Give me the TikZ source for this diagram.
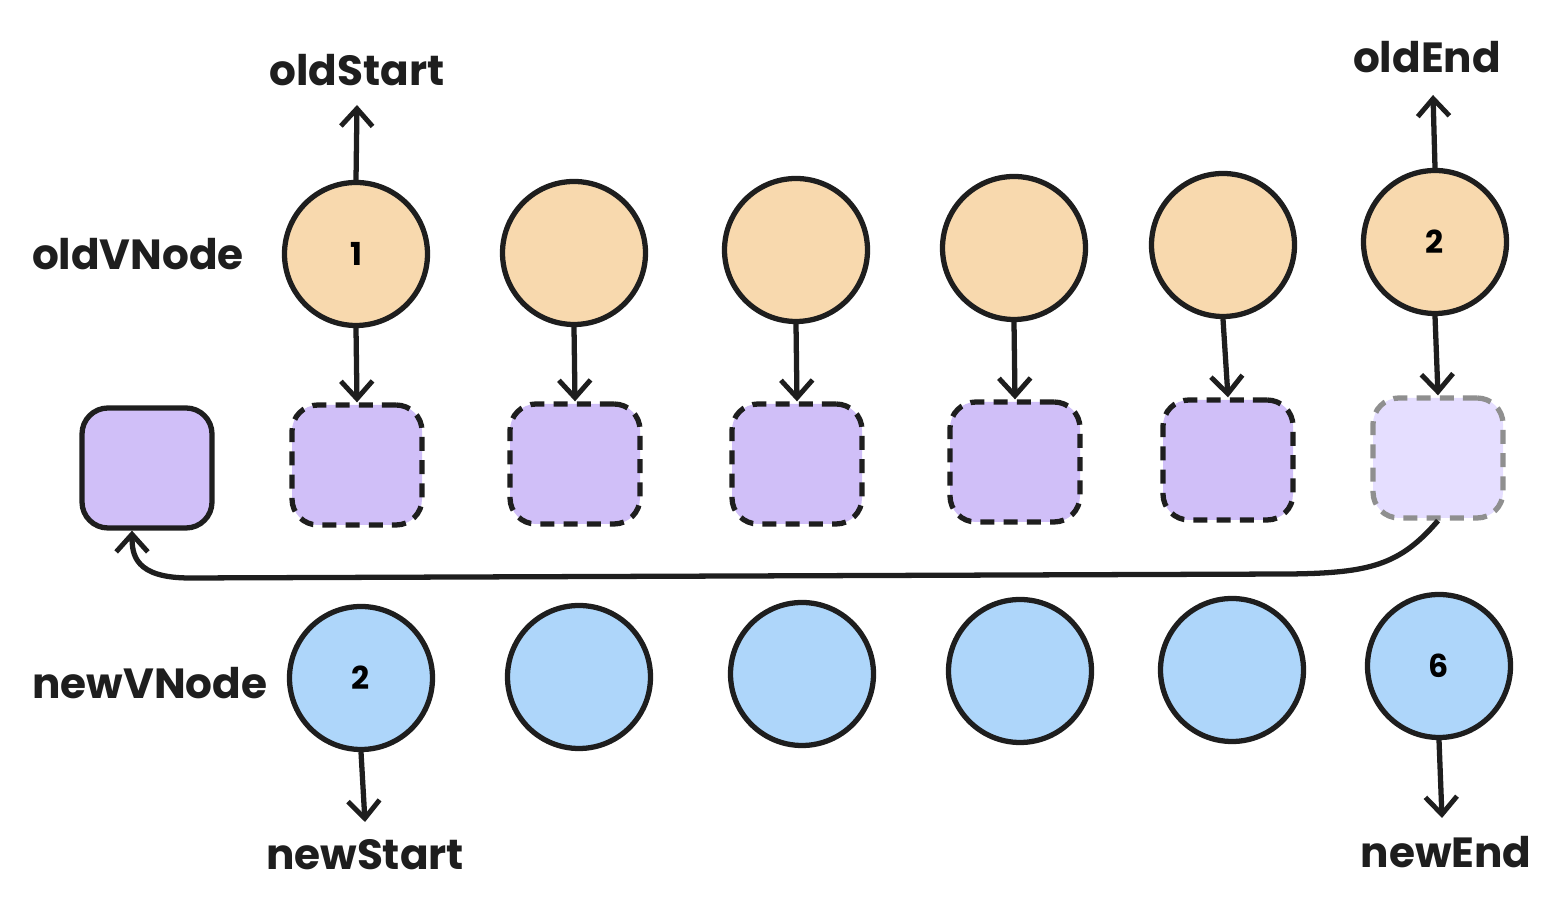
\documentclass[tikz,border=0pt]{standalone}
\usepackage{fontspec}
\setmainfont{Poppins}
\usetikzlibrary{arrows.meta}
\definecolor{inkblack}{HTML}{1E1E1E}
\definecolor{oldfill}{HTML}{F8D9AE}
\definecolor{newfill}{HTML}{AED6FA}
\definecolor{slotfill}{HTML}{D0BFF8}
\definecolor{slotpale}{HTML}{E5DEFF}
\definecolor{slotgray}{HTML}{8F8F8F}
\tikzset{
  oldnode/.style={circle, draw=inkblack, line width=1.5pt, fill=oldfill, minimum size=1.43cm, inner sep=0pt, font=\bfseries\small},
  newnode/.style={oldnode, fill=newfill},
  slot/.style={rounded corners=0.26cm, fill=slotfill, line width=1.5pt, minimum width=1.3cm, minimum height=1.2cm, inner sep=0pt},
  ghost/.style={dash pattern=on 4pt off 2.6pt},
  link/.style={draw=inkblack, line width=1.5pt, -{Straight Barb[length=5pt,width=9pt,line width=1.4pt]}},
  tag/.style={font=\bfseries\large, text=inkblack, inner sep=0pt}
}
\begin{document}
\begin{tikzpicture}
        \useasboundingbox (0,0) rectangle (15.62,9.10);
        % old vnodes
        \node[oldnode] (o1) at (3.56,6.56) {1};
        \node[oldnode] (o2) at (5.74,6.57) {};
        \node[oldnode] (o3) at (7.96,6.60) {};
        \node[oldnode] (o4) at (10.14,6.62) {};
        \node[oldnode] (o5) at (12.23,6.65) {};
        \node[oldnode] (o6) at (14.35,6.68) {2};
        % real dom slots
        \node[slot, draw=inkblack] (r0) at (1.47,4.42) {};
        \node[slot, draw=inkblack, ghost] (s1) at (3.57,4.45) {};
        \node[slot, draw=inkblack, ghost] (s2) at (5.75,4.46) {};
        \node[slot, draw=inkblack, ghost] (s3) at (7.97,4.46) {};
        \node[slot, draw=inkblack, ghost] (s4) at (10.15,4.48) {};
        \node[slot, draw=inkblack, ghost] (s5) at (12.28,4.50) {};
        \node[slot, draw=slotgray, ghost, fill=slotpale] (s6) at (14.38,4.52) {};
        % new vnodes
        \node[newnode] (n1) at (3.61,2.32) {2};
        \node[newnode] (n2) at (5.79,2.33) {};
        \node[newnode] (n3) at (8.02,2.36) {};
        \node[newnode] (n4) at (10.20,2.39) {};
        \node[newnode] (n5) at (12.32,2.40) {};
        \node[newnode] (n6) at (14.39,2.44) {6};
        % labels
        \node[tag] (oldv) at (1.38,6.56) {oldVNode};
        \node[tag] (newv) at (1.50,2.27) {newVNode};
        \node[tag] (os) at (3.57,8.40) {oldStart};
        \node[tag] (oe) at (14.27,8.53) {oldEnd};
        \node[tag] (ns) at (3.65,0.55) {newStart};
        \node[tag] (ne) at (14.46,0.58) {newEnd};
        \coordinate (osp) at (3.57,8.05);
        \coordinate (oep) at (14.33,8.15);
        \coordinate (nsp) at (3.65,0.88);
        \coordinate (nep) at (14.42,0.92);
        % pointers
        \draw[link] (o1.north) -- (osp);
        \draw[link] (o6.north) -- (oep);
        \draw[link] (n1.south) -- (nsp);
        \draw[link] (n6.south) -- (nep);
        % vnode to dom
        \draw[link] (o1.south) -- (s1.north);
        \draw[link] (o2.south) -- (s2.north);
        \draw[link] (o3.south) -- (s3.north);
        \draw[link] (o4.south) -- (s4.north);
        \draw[link] (o5.south) -- (s5.north);
        \draw[link] (o6.south) -- (s6.north);
        % move last dom to the front
        \draw[link] (s6.south) .. controls (14.0,3.45) and (13.7,3.37) .. (12.9,3.36)
            -- (1.90,3.32) .. controls (1.35,3.32) and (1.32,3.55) .. ([xshift=-0.15cm]r0.south);
    \end{tikzpicture}
\end{document}
